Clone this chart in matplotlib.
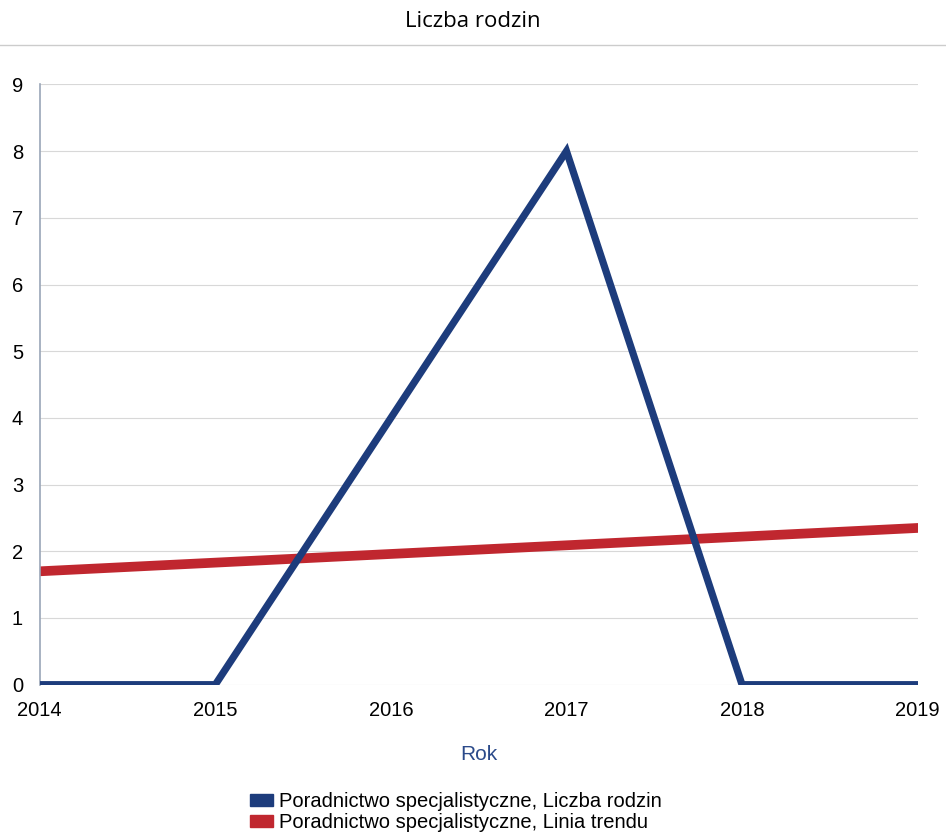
import matplotlib.pyplot as plt
from matplotlib.patches import Patch
from matplotlib.lines import Line2D

plt.rcParams['font.family'] = ['Liberation Sans', 'DejaVu Sans']

# dane
lata = [2014, 2015, 2016, 2017, 2018, 2019]
liczba_rodzin = [0, 0, 4, 8, 0, 0]
trend_lata = [2014, 2019]
trend = [1.7, 2.35]
etykiety_y = [0, 1, 2, 3, 4, 5, 6, 7, 8, 9]

niebieski = '#1d3c7c'
czerwony = '#c0272f'

fig = plt.figure(figsize=(9.46, 8.36), dpi=100)
ax = fig.add_axes([0.042, 0.181, 0.928, 0.718])

ax.plot(lata, liczba_rodzin, color=niebieski, lw=5.2, solid_joinstyle='miter', zorder=3)
ax.plot(trend_lata, trend, color=czerwony, lw=7, zorder=2)

ax.set_xlim(2014, 2019)
ax.set_ylim(0, 9)
ax.set_xticks(lata)
ax.set_yticks(etykiety_y)
ax.tick_params(length=0, labelsize=14.5)
ax.tick_params(axis='x', pad=12)
ax.tick_params(axis='y', pad=12)
ax.grid(axis='y', color='#d8d8d8', lw=0.8)
ax.grid(axis='x', visible=False)
for s in ['top', 'right', 'bottom']:
    ax.spines[s].set_visible(False)
ax.spines['left'].set_color('#9aa6b8')
ax.spines['left'].set_linewidth(1.2)

ax.set_xlabel('Rok', fontsize=15, color='#2b4a8a', labelpad=18)

fig.text(0.5, 0.974, 'Liczba rodzin', ha='center', va='center', fontsize=16,
         family=['Open Sans', 'DejaVu Sans'])
fig.add_artist(Line2D([0, 1], [0.946, 0.946], color='#cccccc', lw=1))

uchwyty = [Patch(color=niebieski), Patch(color=czerwony)]
fig.legend(uchwyty, ['Poradnictwo specjalistyczne, Liczba rodzin',
                     'Poradnictwo specjalistyczne, Linia trendu'],
           loc='center', bbox_to_anchor=(0.482, 0.029), frameon=False, fontsize=14.5,
           handlelength=1.1, handleheight=0.55, handletextpad=0.3, labelspacing=0.1)

fig.savefig('out.png', dpi=100)
